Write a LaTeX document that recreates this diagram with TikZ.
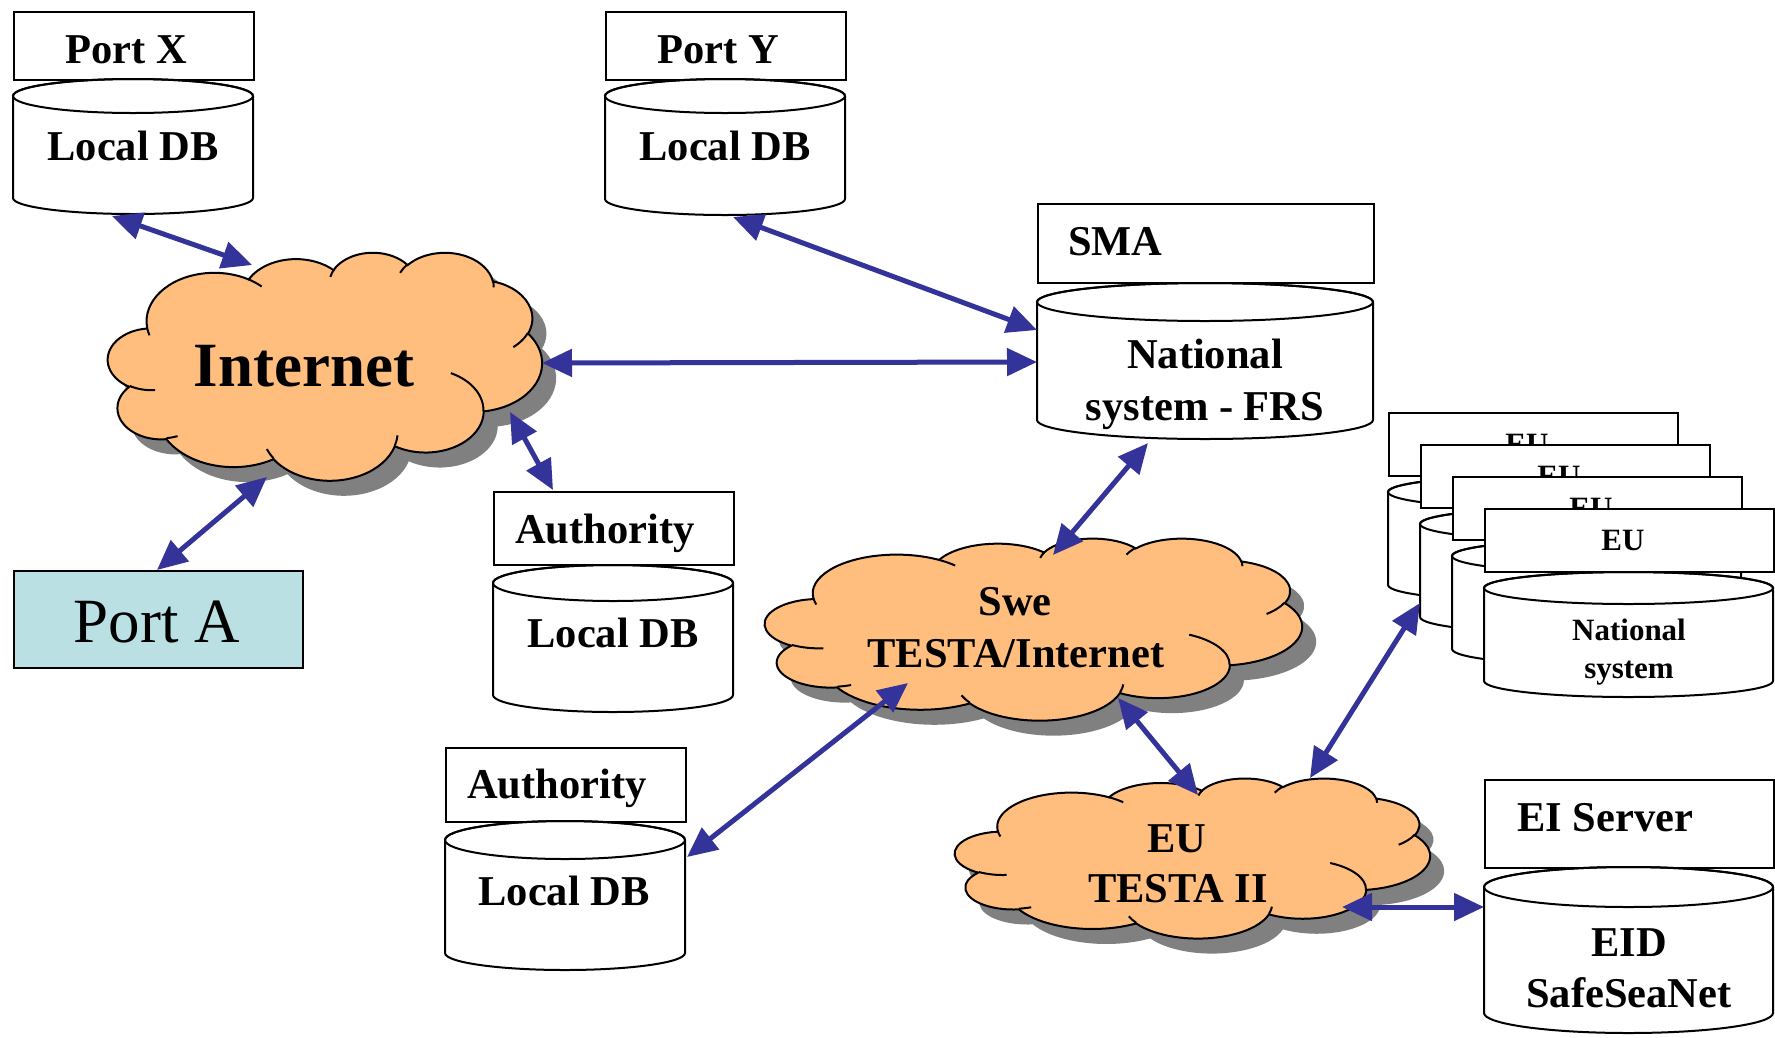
\documentclass[tikz,border=0pt]{standalone}
\usepackage{fontspec}
\setmainfont{Liberation Serif}
\usetikzlibrary{arrows.meta}
\definecolor{arrowblue}{RGB}{51,51,153}
\definecolor{cloudfill}{RGB}{255,190,125}
\definecolor{cloudshadow}{RGB}{128,128,128}
\definecolor{portafill}{RGB}{187,224,227}

% elliptical arc given by "visual" angles (DrawingML arcTo)
\newcommand\carc[4]{arc[start angle={atan2((#1)*sin(#3),(#2)*cos(#3))}, delta angle={mod(atan2((#1)*sin((#3)+(#4)),(#2)*cos((#3)+(#4)))-atan2((#1)*sin(#3),(#2)*cos(#3))+720,360)}, x radius=#1pt, y radius=#2pt]}

\newcommand\cloudouter{(390,1437)
 \carc{675.3}{919.0}{-190.4875}{123.7805}
 \carc{533.3}{726.7}{-144.1024}{89.9452}
 \carc{436.5}{594.5}{-145.8079}{99.7230}
 \carc{485.7}{659.5}{-130.9861}{117.2417}
 \carc{533.3}{727.3}{-78.7089}{109.0269}
 \carc{677.5}{922.0}{-46.2673}{130.2690}
 \carc{578.5}{786.7}{0.6250}{114.0333}
 \carc{675.2}{921.5}{22.4516}{115.1726}
 \carc{772.0}{1054.3}{66.2426}{75.7110}
 \carc{436.0}{591.8}{-274.9421}{146.7356}
 \carc{434.5}{594.5}{-246.8285}{152.5189} -- cycle}

\newcommand\cloudinner{
 (469.3,2617.7) \carc{434.5}{594.5}{86.7420}{26.4295}
 (692.8,3489.9) \carc{436.0}{591.8}{73.6105}{11.4475}
 (1647.8,3909.0) \carc{675.2}{921.5}{137.6242}{14.0811}
 (2882.7,3475.1) \carc{675.2}{921.5}{6.4533}{15.9984}
 (3412.9,2295.4) \carc{578.5}{786.7}{-70.2924}{70.9174}
 (4179.8,1535.4) \carc{533.3}{727.3}{30.3180}{27.7515}
 (3832.4,542.6) \carc{485.7}{659.5}{-13.7443}{14.8589}
 (2907.8,395.2) \carc{485.7}{659.5}{-149.1815}{18.1954}
 (2214.1,472.0) \carc{436.5}{594.5}{-163.4943}{17.6864}
 (1400.0,519.2) \carc{675.3}{919.0}{-66.7070}{12.3194}
 (412.7,1578.9) \carc{675.3}{919.0}{157.6544}{11.8582}}

% x y w h name
\newcommand\netcloud[5]{%
  \begin{scope}[shift={(#1+14,#2+15)}, xscale=#3/4320, yscale=#4/4320]
    \fill[cloudshadow] \cloudouter;
  \end{scope}
  \begin{scope}[shift={(#1,#2)}, xscale=#3/4320, yscale=#4/4320]
    \filldraw[fill=cloudfill, draw=black, line width=2pt] \cloudouter;
    \draw[line width=2pt] \cloudinner;
  \end{scope}
  \node[inner sep=0pt, minimum width=#3pt, minimum height=#4pt, anchor=north west] (#5) at (#1,#2) {};
}

% x1 x2 ytop ybot rytop rybot name
\newcommand\dbcyl[7]{%
  \pgfmathsetmacro\cylrx{(#2-#1)/2}%
  \pgfmathsetmacro\cylcx{(#1+#2)/2}%
  \filldraw[fill=white, draw=black, line width=2pt] (#1,#3) -- (#1,#4)
     arc[start angle=180, delta angle=-180, x radius=\cylrx pt, y radius=#6pt]
     -- (#2,#3) arc[start angle=0, delta angle=-180, x radius=\cylrx pt, y radius=#5pt] -- cycle;
  \draw[line width=2pt] (\cylcx,#3) ellipse[x radius=\cylrx pt, y radius=#5pt];
  \coordinate (#7) at (\cylcx,#3);
}

\begin{document}
\begin{tikzpicture}[x=1pt, y=1pt, yscale=-1,
  box/.style={draw=black, line width=2pt, fill=white, inner sep=0pt, anchor=north west},
  tbig/.style={font=\fontsize{42.5}{50}\selectfont\bfseries, inner sep=0pt},
  thuge/.style={font=\fontsize{63}{70}\selectfont\bfseries, inner sep=0pt},
  tsmall/.style={font=\fontsize{31}{36}\selectfont\bfseries, inner sep=0pt},
  tporta/.style={font=\fontsize{63}{70}\selectfont, inner sep=0pt},
  link/.style={draw=arrowblue, line width=5pt,
    {Triangle[length=30pt,width=27pt]}-{Triangle[length=30pt,width=27pt]}}]

\useasboundingbox (0,0) rectangle (1775,1037);

% Port X
\node[box, minimum width=240pt, minimum height=68pt] (portxbox) at (13,11) {};
\node[tbig, anchor=base] (portxlbl) at (126,63) {Port X};
\dbcyl{13}{253}{96}{198}{17}{16}{portxdb}
\node[tbig, anchor=base] (portxdblbl) at (133,160) {Local DB};

% Port Y
\node[box, minimum width=240pt, minimum height=68pt] (portybox) at (605,11) {};
\node[tbig, anchor=base] (portylbl) at (718,63) {Port Y};
\dbcyl{605}{845}{96}{199}{17}{16}{portydb}
\node[tbig, anchor=base] (portydblbl) at (725,160) {Local DB};

% SMA
\node[box, minimum width=336pt, minimum height=79pt] (smabox) at (1037,203) {};
\node[tbig, anchor=base west] (smalbl) at (1068,255) {SMA};
\dbcyl{1037}{1373}{302}{420}{19}{19}{natdb}
\node[tbig, anchor=base] (natlbl1) at (1205,368) {National};
\node[tbig, anchor=base] (natlbl2) at (1205,420) {system - FRS};

% Authority 1
\node[box, minimum width=240pt, minimum height=73pt] (auth1box) at (493,491) {};
\node[tbig, anchor=base west] (auth1lbl) at (515,543) {Authority};
\dbcyl{493}{733}{583}{695}{18}{17}{auth1db}
\node[tbig, anchor=base] (auth1dblbl) at (613,647) {Local DB};

% Authority 2
\node[box, minimum width=240pt, minimum height=74pt] (auth2box) at (445,747) {};
\node[tbig, anchor=base west] (auth2lbl) at (467,798) {Authority};
\dbcyl{445}{685}{840}{953}{19}{17}{auth2db}
\node[tbig, anchor=base] (auth2dblbl) at (564,905) {Local DB};

% EI server
\node[box, minimum width=289pt, minimum height=88pt] (eibox) at (1484,779) {};
\node[tbig, anchor=base west] (eilbl) at (1517,831) {EI Server};
\dbcyl{1484}{1773}{887}{1013}{20}{20}{eiddb}
\node[tbig, anchor=base] (eidlbl1) at (1629,956) {EID};
\node[tbig, anchor=base] (eidlbl2) at (1629,1007) {SafeSeaNet};

% Port A
\node[box, fill=portafill, minimum width=289pt, minimum height=97pt] (portabox) at (13,570) {};
\node[tporta, anchor=base] (portalbl) at (157,642) {Port A};

% EU stack
\foreach \k in {0,1,2,3} {
  \node[box, minimum width=289pt, minimum height=63pt] (eubox\k) at ({1388+32*\k},{412+32*\k}) {};
  \node[tsmall, anchor=base] (eulbl\k) at ({1527+32*\k},{454+32*\k}) {EU};
  \pgfmathsetmacro\sxa{1388+32*\k}
  \pgfmathsetmacro\sxb{1677+32*\k}
  \pgfmathsetmacro\sya{492+32*\k}
  \pgfmathsetmacro\syb{585+32*\k}
  \dbcyl{\sxa}{\sxb}{\sya}{\syb}{16}{16}{eudb\k}
}
\node[tsmall, anchor=base] (eunat1) at (1629,640) {National};
\node[tsmall, anchor=base] (eunat2) at (1629,678) {system};

% clouds
\netcloud{108}{252}{434}{228}{inet}
\node[thuge, anchor=base] (inetlbl) at (304,386) {Internet};
\netcloud{765}{538}{537}{182}{swe}
\node[tbig, anchor=base] (swelbl1) at (1015,615) {Swe};
\node[tbig, anchor=base] (swelbl2) at (1016,667) {TESTA/Internet};
\netcloud{955}{778}{475}{160}{eutesta}
\node[tbig, anchor=base] (eulblA) at (1177,852) {EU};
\node[tbig, anchor=base] (eulblB) at (1178,902) {TESTA II};

% connector end points
\coordinate (pxdb-s) at (112,216);
\coordinate (inet-nw) at (252,265);
\coordinate (pydb-s) at (733,217);
\coordinate (nat-w1) at (1037,330);
\coordinate (inet-e) at (542,363);
\coordinate (nat-w2) at (1037,362);
\coordinate (inet-se) at (510,412);
\coordinate (auth1-n) at (553,490);
\coordinate (inet-s) at (267,477);
\coordinate (porta-n) at (157,570);
\coordinate (nat-s) at (1148,443);
\coordinate (swe-n) at (1053,555);
\coordinate (swe-sw) at (908,683);
\coordinate (auth2db-e) at (687,857);
\coordinate (swe-s) at (1118,698);
\coordinate (eu-n) at (1198,795);
\coordinate (eu-ne) at (1310,778);
\coordinate (stack-w) at (1420,603);
\coordinate (eu-e) at (1342,907);
\coordinate (eid-w) at (1484,907);

\draw[link] (pxdb-s) -- (inet-nw);
\draw[link] (pydb-s) -- (nat-w1);
\draw[link] (inet-e) -- (nat-w2);
\draw[link] (inet-se) -- (auth1-n);
\draw[link] (inet-s) -- (porta-n);
\draw[link] (nat-s) -- (swe-n);
\draw[link] (swe-sw) -- (auth2db-e);
\draw[link] (swe-s) -- (eu-n);
\draw[link] (eu-ne) -- (stack-w);
\draw[link] (eu-e) -- (eid-w);
\end{tikzpicture}
\end{document}
